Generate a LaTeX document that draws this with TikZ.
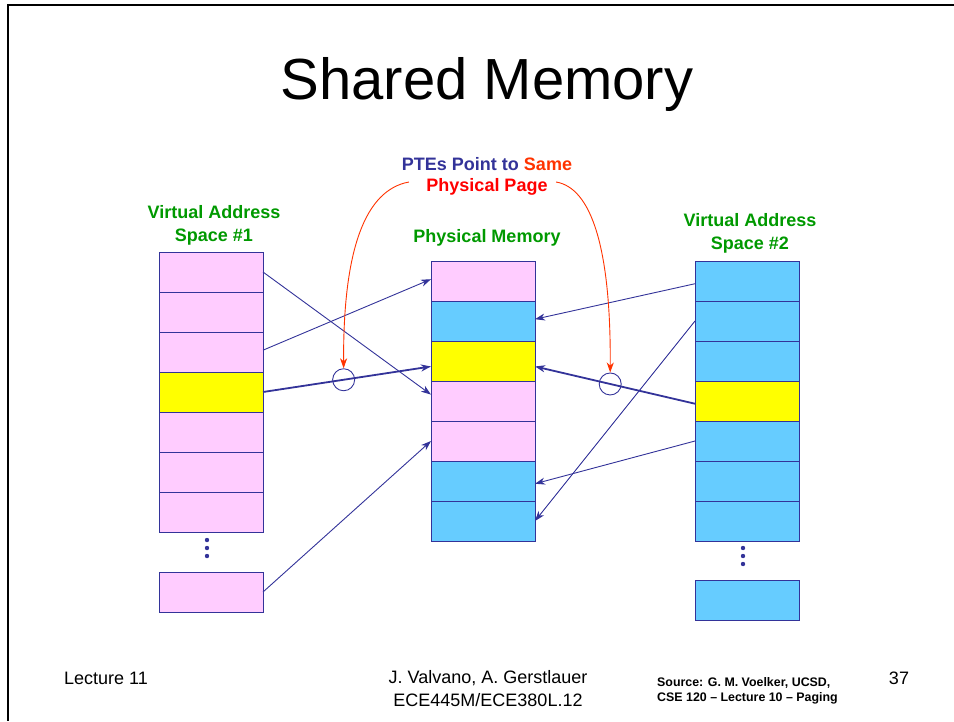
\documentclass[tikz,border=0pt]{standalone}
\usepackage{fontspec}
\setmainfont{Liberation Sans}
\usetikzlibrary{positioning,arrows.meta}

\definecolor{slideblue}{HTML}{333399}
\definecolor{pagepink}{HTML}{FFCCFF}
\definecolor{pagecyan}{HTML}{66CCFF}
\definecolor{pageyellow}{HTML}{FFFF00}
\definecolor{labelgreen}{HTML}{009900}
\definecolor{notered}{HTML}{FF3300}
\definecolor{pagered}{HTML}{FF0000}

\tikzset{
  page/.style={draw=slideblue, line width=1pt, minimum width=104pt, minimum height=40pt, inner sep=0pt, outer sep=0pt},
  pinkpage/.style={page, fill=pagepink},
  cyanpage/.style={page, fill=pagecyan},
  yellowpage/.style={page, fill=pageyellow},
  heading/.style={text=labelgreen, align=center, font=\fontsize{18}{23}\selectfont\bfseries},
  map/.style={draw=slideblue, line width=0.9pt, -{Stealth[length=10pt,width=7pt,inset=3pt]}},
  shared/.style={map, line width=1.8pt},
  ring/.style={circle, draw=slideblue, line width=0.9pt, minimum size=22pt, inner sep=0pt},
  pointer/.style={draw=notered, line width=0.9pt, -{Stealth[length=10pt,width=7pt,inset=3pt]}},
  footer/.style={inner sep=0pt, font=\fontsize{18}{23}\selectfont},
}

\begin{document}
\begin{tikzpicture}[x=1pt, y=-1pt]
\useasboundingbox (0,0) rectangle (954,721);
%frame%
\draw[line width=2.2pt] (954,5) -- (8,5) -- (8,721);

%title%
\node[font=\fontsize{58}{64}\selectfont] (title) at (487,84) {Shared Memory};

%virtual address space 1%
\foreach \c [count=\i] in {pinkpage,pinkpage,pinkpage,yellowpage,pinkpage,pinkpage,pinkpage}
  \node[\c] (v1-\i) at (211,232+40*\i) {};
\node[pinkpage] (v1-last) at (211,592) {};
\foreach \y in {540,548,556} \fill[slideblue] (207,\y) circle (2.2pt);
\node[heading] (v1lab) at (214,225) {Virtual Address\\Space \#1};

%physical memory%
\foreach \c [count=\i] in {pinkpage,cyanpage,yellowpage,pinkpage,pinkpage,cyanpage,cyanpage}
  \node[\c] (pm-\i) at (483,241+40*\i) {};
\node[heading] (pmlab) at (487,238) {Physical Memory};

%virtual address space 2%
\foreach \c [count=\i] in {cyanpage,cyanpage,cyanpage,yellowpage,cyanpage,cyanpage,cyanpage}
  \node[\c] (v2-\i) at (747,241+40*\i) {};
\node[cyanpage] (v2-last) at (747,600) {};
\foreach \y in {548,556,564} \fill[slideblue] (743,\y) circle (2.2pt);
\node[heading] (v2lab) at (750,233) {Virtual Address\\Space \#2};

%mappings%
\draw[map] (v1-1.east) -- (pm-4.173);
\draw[map] (v1-3.2) -- (pm-1.178);
\draw[map] (v1-last.east) -- (pm-5.west);
\draw[map] (v2-1.183) -- (pm-2.2);
\draw[map] (v2-2.west) -- (pm-7.east);
\draw[map] (v2-5.west) -- (pm-6.357);
\draw[shared] (v1-4.east) -- (pm-3.186) node[ring, pos=0.48] (c1) {};
\draw[shared] (v2-4.183) -- (pm-3.354) node[ring, pos=0.53] (c2) {};

%note%
\node[heading, text=slideblue] (pte1) at (487,164) {PTEs Point to \textcolor{notered}{Same}};
\node[heading, text=pagered] (pte2) at (487,187) {Physical Page};
\draw[pointer] ([xshift=-14pt,yshift=5pt]pte2.west) .. controls (365,190) and (343,250) .. (c1.north);
\draw[pointer] ([xshift=5pt,yshift=5pt]pte2.east) .. controls (592,188) and (611,250) .. (c2.north);

%footer%
\node[footer, anchor=west] (lecture) at (64,678) {Lecture 11};
\node[footer, align=center] (authors) at (488,689) {J. Valvano, A. Gerstlauer\\ECE445M/ECE380L.12};
\node[inner sep=0pt, anchor=west, align=left, font=\fontsize{12.4}{14.5}\selectfont\bfseries] (source) at (657,691) {Source: G. M. Voelker, UCSD,\\CSE 120 -- Lecture 10 -- Paging};
\node[footer] (pageno) at (899,678) {37};
\end{tikzpicture}
\end{document}
